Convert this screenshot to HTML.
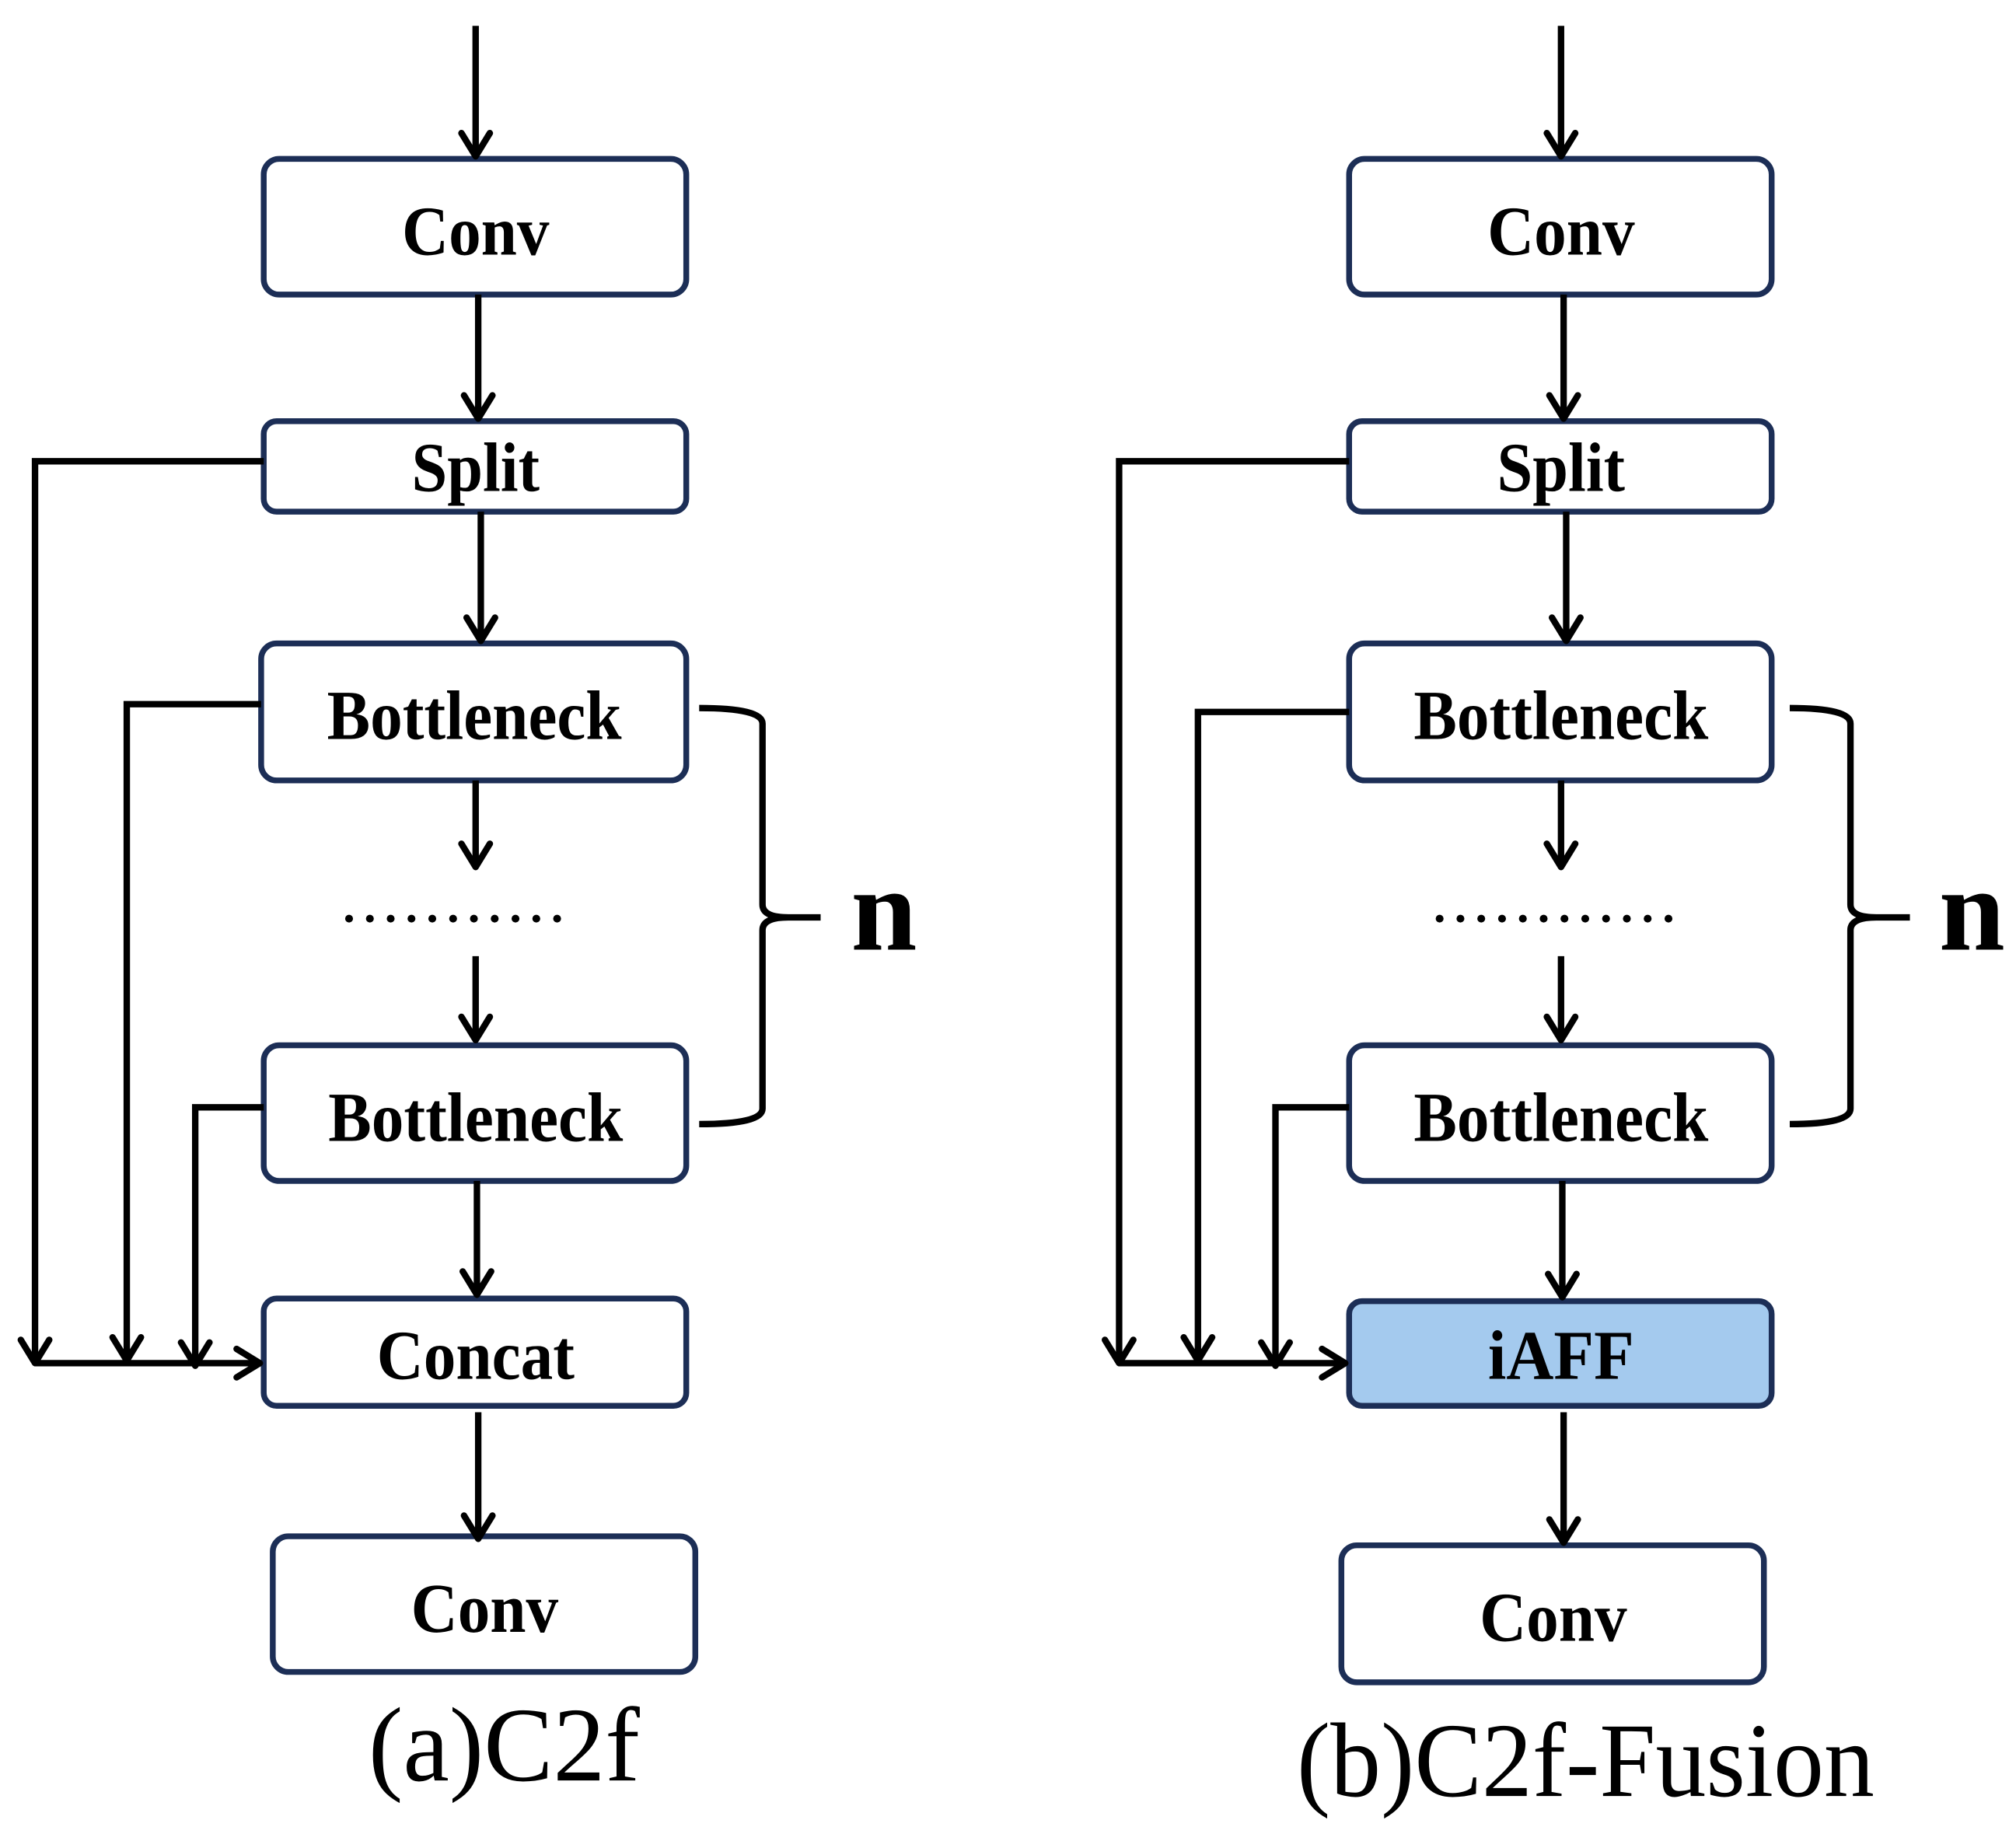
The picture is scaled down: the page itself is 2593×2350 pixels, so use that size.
<!DOCTYPE html>
<html><head><meta charset="utf-8"><style>html,body{margin:0;padding:0;background:#fff}svg{display:block}</style></head>
<body>
<svg width="2593" height="2350" viewBox="0 0 1560 1414" xmlns="http://www.w3.org/2000/svg">
<defs>
<g id="ah"><path d="M-11,-18 L0,0 L11,-18" fill="none" stroke="#000" stroke-width="5" stroke-linecap="round" stroke-linejoin="round"/></g>
</defs>
<g fill="none" stroke="#1c2e56" stroke-width="4.5">
<rect x="204" y="123" width="327" height="105" rx="12"/>
<rect x="204" y="326" width="327" height="70" rx="10"/>
<rect x="202" y="498" width="329" height="106" rx="12"/>
<rect x="204" y="809" width="327" height="105" rx="12"/>
<rect x="204" y="1005" width="327" height="83" rx="10"/>
<rect x="211" y="1189" width="327" height="105" rx="12"/>
<rect x="1044" y="123" width="327" height="105" rx="12"/>
<rect x="1044" y="326" width="327" height="70" rx="10"/>
<rect x="1044" y="498" width="327" height="106" rx="12"/>
<rect x="1044" y="809" width="327" height="105" rx="12"/>
<rect x="1044" y="1007" width="327" height="81" rx="10" fill="#a4caee"/>
<rect x="1038" y="1196" width="327" height="106" rx="12"/>
</g>
<g stroke="#000" stroke-width="5" fill="none">
<path d="M368,20V120M370,228V323M372,396V495M368,604V670M368,740V804M369,914V1001M370,1093V1190"/>
<path d="M1208,20V120M1210,228V323M1212,396V495M1208,604V670M1208,740V804M1209,914V1003M1210,1093V1193"/>
<path d="M204,357H27V1055M202,545H98V1052M204,857H151V1056M27,1055H200"/>
<path d="M1044,357H866V1055M1044,551H927V1052M1044,857H987V1056M866,1055H1040"/>
<path d="M541,548 Q590,548 590,560 V700 Q590,710 610,710 H635 M590,720 Q590,710 610,710 M590,720 V858 Q590,870 541,870"/>
<path d="M1385,548 Q1432,548 1432,560 V700 Q1432,710 1452,710 H1478 M1432,720 Q1432,710 1452,710 M1432,720 V858 Q1432,870 1385,870"/>
</g>
<g>
<use href="#ah" x="368" y="121"/><use href="#ah" x="370" y="324"/><use href="#ah" x="372" y="496"/><use href="#ah" x="368" y="671"/><use href="#ah" x="368" y="805"/><use href="#ah" x="369" y="1002"/><use href="#ah" x="370" y="1191"/>
<use href="#ah" x="1208" y="121"/><use href="#ah" x="1210" y="324"/><use href="#ah" x="1212" y="496"/><use href="#ah" x="1208" y="671"/><use href="#ah" x="1208" y="805"/><use href="#ah" x="1209" y="1004"/><use href="#ah" x="1210" y="1194"/>
<use href="#ah" x="27" y="1055"/><use href="#ah" x="98" y="1053"/><use href="#ah" x="151" y="1057"/>
<use href="#ah" x="866" y="1055"/><use href="#ah" x="927" y="1053"/><use href="#ah" x="987" y="1057"/>
<use href="#ah" x="201" y="1055" transform="rotate(-90 201 1055)"/>
<use href="#ah" x="1041" y="1055" transform="rotate(-90 1041 1055)"/>
</g>
<g stroke="#000" stroke-width="6" stroke-dasharray="0.1 16" stroke-linecap="round">
<path d="M270,711H444"/><path d="M1114,711H1306"/>
</g>
<g font-family="Liberation Serif, serif" font-weight="bold" font-size="54" text-anchor="middle" fill="#000">
<text x="368" y="197" textLength="114" lengthAdjust="spacingAndGlyphs">Conv</text>
<text x="368" y="380" textLength="99" lengthAdjust="spacingAndGlyphs">Split</text>
<text x="367" y="572" textLength="228" lengthAdjust="spacingAndGlyphs">Bottleneck</text>
<text x="368" y="883" textLength="228" lengthAdjust="spacingAndGlyphs">Bottleneck</text>
<text x="368" y="1067" textLength="153" lengthAdjust="spacingAndGlyphs">Concat</text>
<text x="375" y="1263" textLength="114" lengthAdjust="spacingAndGlyphs">Conv</text>
<text x="1208" y="197" textLength="114" lengthAdjust="spacingAndGlyphs">Conv</text>
<text x="1208" y="380" textLength="99" lengthAdjust="spacingAndGlyphs">Split</text>
<text x="1208" y="572" textLength="228" lengthAdjust="spacingAndGlyphs">Bottleneck</text>
<text x="1208" y="883" textLength="228" lengthAdjust="spacingAndGlyphs">Bottleneck</text>
<text x="1208" y="1067" textLength="113" lengthAdjust="spacingAndGlyphs">iAFF</text>
<text x="1202" y="1270" textLength="114" lengthAdjust="spacingAndGlyphs">Conv</text>
<text x="684" y="735" font-size="92">n</text>
<text x="1526" y="735" font-size="92">n</text>
</g>
<g font-family="Liberation Serif, serif" font-size="82" text-anchor="middle" fill="#000">
<text x="390" y="1378" textLength="210" lengthAdjust="spacingAndGlyphs">(a)C2f</text>
<text x="1227" y="1390" textLength="447" lengthAdjust="spacingAndGlyphs">(b)C2f-Fusion</text>
</g>
</svg>
</body></html>
